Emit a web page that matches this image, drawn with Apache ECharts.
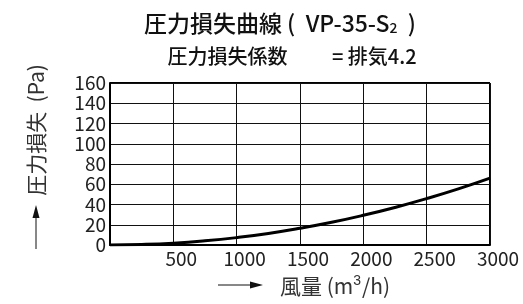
<!DOCTYPE html>
<html>
<head>
<meta charset="utf-8">
<script src="https://cdn.jsdelivr.net/npm/echarts@6/dist/echarts.min.js"></script>
<style>
  html, body { margin: 0; padding: 0; background: #fff; }
  #chart { width: 523px; height: 304px; }
</style>
</head>
<body>
<div id="chart"></div>
<script>
// 風量 (m3/h)
var airflow = [0, 250, 500, 750, 1000, 1250, 1500, 1750, 2000, 2250, 2500, 2750, 3000];
// 圧力損失 (Pa)
var pressureLoss = [0, 0.5, 1.8, 4.1, 7.3, 11.4, 16.5, 22.4, 29.3, 37.1, 45.8, 55.4, 66];
var xTicks = [0, 500, 1000, 1500, 2000, 2500, 3000];
var yTicks = [0, 20, 40, 60, 80, 100, 120, 140, 160];

var font = '"Noto Sans CJK JP", "Noto Sans", sans-serif';
var chart = echarts.init(document.getElementById('chart'));

var option = {
  backgroundColor: '#fff',
  animation: false,
  textStyle: { fontFamily: font },
  title: [
    {
      text: '圧力損失曲線 (  VP-35-S{sub|2}  )',
      left: 275, top: 6, textAlign: 'center',
      textStyle: {
        fontFamily: font, fontSize: 23, fontWeight: 500, color: '#111',
        rich: { sub: { fontFamily: font, fontSize: 14, fontWeight: 500, color: '#111', padding: [10, 0, 0, 0] } }
      }
    },
    {
      text: '圧力損失係数　　 = 排気4.2',
      left: 287, top: 41, textAlign: 'center',
      textStyle: { fontFamily: font, fontSize: 20, fontWeight: 500, color: '#111' }
    }
  ],
  grid: { left: 110, right: 33, top: 83, bottom: 59 },
  xAxis: {
    type: 'value',
    min: xTicks[0], max: xTicks[xTicks.length - 1], interval: 500,
    axisLine: { show: true, onZero: false, lineStyle: { color: '#000', width: 2 } },
    axisTick: { show: false },
    axisLabel: {
      showMinLabel: false, margin: 4, color: '#222', fontSize: 19, fontFamily: font,
      padding: [0, 0, 0, 16],
      formatter: function (v) { return String(v); }
    },
    splitLine: { show: true, lineStyle: { color: '#111', width: 1 } }
  },
  yAxis: {
    type: 'value',
    min: yTicks[0], max: yTicks[yTicks.length - 1], interval: 20,
    axisLine: { show: true, lineStyle: { color: '#000', width: 2 } },
    axisTick: { show: false },
    axisLabel: { margin: 4, color: '#222', fontSize: 19, fontFamily: font, lineHeight: 19 },
    splitLine: { show: true, lineStyle: { color: '#111', width: 1 } }
  },
  series: [
    {
      type: 'line',
      data: airflow.map(function (x, i) { return [x, pressureLoss[i]]; }),
      smooth: true,
      symbol: 'none',
      lineStyle: { color: '#000', width: 3 }
    }
  ],
  graphic: [
    // top and right border of plot
    { type: 'line', shape: { x1: 490, y1: 83, x2: 490, y2: 245 }, style: { stroke: '#000', lineWidth: 2 } },
    { type: 'line', shape: { x1: 110, y1: 83, x2: 490, y2: 83 }, style: { stroke: '#000', lineWidth: 2 } },
    // y axis name with arrow
    { type: 'line', shape: { x1: 36, y1: 249, x2: 36, y2: 216 }, style: { stroke: '#111', lineWidth: 1 } },
    { type: 'polygon', shape: { points: [[32.5, 218], [39.5, 218], [36, 205]] }, style: { fill: '#111' } },
    {
      type: 'text', x: 36, y: 130, rotation: Math.PI / 2,
      style: { text: '圧力損失  (Pa)', font: '21px ' + font, fill: '#333', align: 'center', verticalAlign: 'middle' }
    },
    // x axis name with arrow
    { type: 'line', shape: { x1: 218, y1: 285, x2: 252, y2: 285 }, style: { stroke: '#111', lineWidth: 1 } },
    { type: 'polygon', shape: { points: [[250, 281.5], [250, 288.5], [263, 285]] }, style: { fill: '#111' } },
    {
      type: 'text', x: 280, y: 286,
      style: { text: '風量 (m{sup|3}/h)', font: '21px ' + font, fill: '#333', verticalAlign: 'middle',
        rich: { sup: { fontSize: 14, padding: [0, 1, 9, 0], fill: '#333' } } }
    }
  ]
};
chart.setOption(option);
</script>
</body>
</html>
